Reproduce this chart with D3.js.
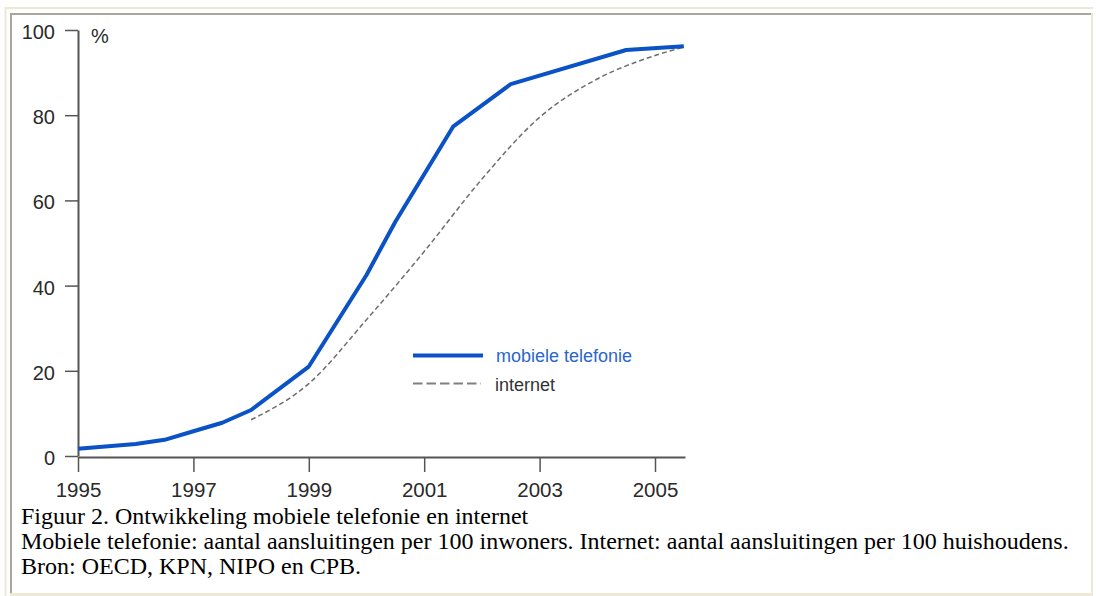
<!DOCTYPE html>
<html>
<head>
<meta charset="utf-8">
<script src="https://cdn.jsdelivr.net/npm/d3@7"></script>
<style>
  html, body { margin: 0; padding: 0; background: #ffffff; }
  svg { display: block; }
</style>
</head>
<body>
<svg id="chart" width="1096" height="596"></svg>
<script>
// ---- data ----
const mobileYears  = [1995, 1996, 1996.5, 1997, 1997.5, 1998, 1999, 2000, 2000.5, 2001.5, 2002.5, 2004.5, 2005.5];
const mobileValues = [1.7, 2.8, 3.8, 5.8, 7.8, 10.8, 21, 42.5, 55, 77.3, 87.3, 95.3, 96.2];
const internetYears  = [1998, 1999, 2000, 2001, 2002, 2003, 2004, 2005, 2005.5];
const internetValues = [8.5, 17, 32, 48, 65, 79.5, 88.5, 94, 96];
const yTicks = [0, 20, 40, 60, 80, 100];
const xTicks = [1995, 1997, 1999, 2001, 2003, 2005];
const seriesNames = ["mobiele telefonie", "internet"];
const unitLabel = "%";
const captionLines = [
  "Figuur 2. Ontwikkeling mobiele telefonie en internet",
  "Mobiele telefonie: aantal aansluitingen per 100 inwoners. Internet: aantal aansluitingen per 100 huishoudens.",
  "Bron: OECD, KPN, NIPO en CPB."
];

const svg = d3.select("#chart");

// ---- frame (table borders) ----
const frame = svg.append("g");
frame.append("line").attr("x1", 5).attr("x2", 1093).attr("y1", 8).attr("y2", 8)
  .attr("stroke", "#ece9d8").attr("stroke-width", 2);
frame.append("line").attr("x1", 5.5).attr("x2", 5.5).attr("y1", 7).attr("y2", 596)
  .attr("stroke", "#ece9d8").attr("stroke-width", 2);
frame.append("line").attr("x1", 10).attr("x2", 1092).attr("y1", 14).attr("y2", 14)
  .attr("stroke", "#a7a69c").attr("stroke-width", 2);
frame.append("line").attr("x1", 11).attr("x2", 11).attr("y1", 13).attr("y2", 596)
  .attr("stroke", "#a7a69c").attr("stroke-width", 2);
frame.append("line").attr("x1", 1092).attr("x2", 1092).attr("y1", 13).attr("y2", 596)
  .attr("stroke", "#ece9d8").attr("stroke-width", 2);
frame.append("line").attr("x1", 10).attr("x2", 1093).attr("y1", 594.5).attr("y2", 594.5)
  .attr("stroke", "#ece9d8").attr("stroke-width", 3);

// ---- scales ----
const x = d3.scaleLinear().domain([1995, 2005.52]).range([78, 685]);
const y = d3.scaleLinear().domain([0, 100]).range([456, 30]);

const axisColor = "#555555";
const labelColor = "#2a2a2a";

// y axis
const yAxis = svg.append("g")
  .attr("transform", `translate(${x(1995)},0)`)
  .call(d3.axisLeft(y).tickValues(yTicks).tickSizeInner(13).tickSizeOuter(0).tickPadding(10));
yAxis.select(".domain").attr("stroke", axisColor).attr("stroke-width", 2);
yAxis.selectAll(".tick line").attr("stroke", axisColor).attr("stroke-width", 1.5);
yAxis.selectAll(".tick text")
  .attr("fill", labelColor)
  .style("font-family", "'Liberation Sans', Arial, sans-serif")
  .style("font-size", "20px")
  .attr("dy", "0.42em");

// x axis
const xAxis = svg.append("g")
  .attr("transform", `translate(0,${y(0) + 1})`)
  .call(d3.axisBottom(x).tickValues(xTicks).tickFormat(d3.format("d")).tickSizeInner(15).tickSizeOuter(0).tickPadding(10));
xAxis.select(".domain").attr("stroke", axisColor).attr("stroke-width", 2);
xAxis.selectAll(".tick line").attr("stroke", axisColor).attr("stroke-width", 1.5);
xAxis.selectAll(".tick text")
  .attr("fill", labelColor)
  .style("font-family", "'Liberation Sans', Arial, sans-serif")
  .style("font-size", "20.5px");

// unit label
svg.append("text")
  .attr("x", 91).attr("y", 43)
  .attr("fill", labelColor)
  .style("font-family", "'Liberation Sans', Arial, sans-serif")
  .style("font-size", "20px")
  .text(unitLabel);

// ---- lines ----
const mobileData = mobileYears.map((yr, i) => ({ x: yr, y: mobileValues[i] }));
const internetData = internetYears.map((yr, i) => ({ x: yr, y: internetValues[i] }));

const lineLinear = d3.line().x(d => x(d.x)).y(d => y(d.y));
const lineSmooth = d3.line().x(d => x(d.x)).y(d => y(d.y)).curve(d3.curveMonotoneX);

const blue = "#0a52c6";
const dashGray = "#6e6e6e";

svg.append("path")
  .datum(internetData)
  .attr("d", lineSmooth)
  .attr("fill", "none")
  .attr("stroke", dashGray)
  .attr("stroke-width", 1.5)
  .attr("stroke-dasharray", "5,3");

svg.append("path")
  .datum(mobileData)
  .attr("d", lineLinear)
  .attr("fill", "none")
  .attr("stroke", blue)
  .attr("stroke-width", 4)
  .attr("stroke-linejoin", "round");

// ---- legend ----
const legend = svg.append("g");
legend.append("line")
  .attr("x1", 413).attr("x2", 483).attr("y1", 355.5).attr("y2", 355.5)
  .attr("stroke", blue).attr("stroke-width", 4);
legend.append("text")
  .attr("x", 496).attr("y", 362)
  .attr("fill", "#2a66cc")
  .style("font-family", "'Liberation Sans', Arial, sans-serif")
  .style("font-size", "18px")
  .text(seriesNames[0]);
legend.append("line")
  .attr("x1", 413).attr("x2", 481).attr("y1", 383.5).attr("y2", 383.5)
  .attr("stroke", "#808080").attr("stroke-width", 2)
  .attr("stroke-dasharray", "9.5,4");
legend.append("text")
  .attr("x", 495).attr("y", 390.5)
  .attr("fill", "#333333")
  .style("font-family", "'Liberation Sans', Arial, sans-serif")
  .style("font-size", "18px")
  .text(seriesNames[1]);

// ---- caption ----
const captionBaselines = [524, 549, 573.5];
svg.append("g").selectAll("text")
  .data(captionLines)
  .join("text")
  .attr("x", 21)
  .attr("y", (d, i) => captionBaselines[i])
  .attr("fill", "#000000")
  .style("font-family", "'Liberation Serif', 'Times New Roman', serif")
  .style("font-size", "24px")
  .text(d => d);
</script>
</body>
</html>
